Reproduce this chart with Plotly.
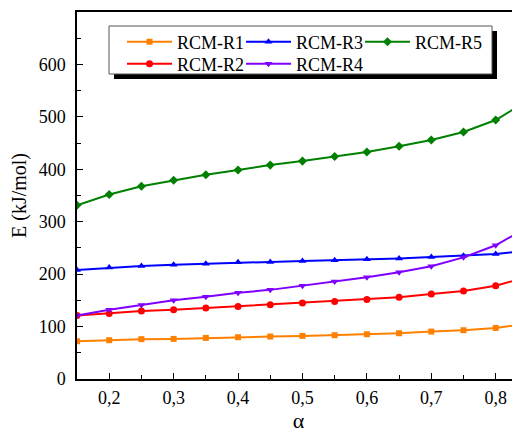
import plotly.graph_objects as go

alpha = [0.15, 0.20, 0.25, 0.30, 0.35, 0.40, 0.45, 0.50, 0.55, 0.60, 0.65, 0.70, 0.75, 0.80, 0.85]

rcm_r1 = [72, 74, 76, 76.5, 78.4, 79.7, 81, 82.2, 83.5, 85.4, 87.3, 90.5, 93, 97.4, 106]
rcm_r2 = [121, 125, 129.6, 132, 135.3, 138.5, 141.7, 144.8, 148, 151.8, 156, 162, 168, 178, 195]
rcm_r3 = [208, 212.5, 215.7, 218, 220, 222.6, 223.3, 225, 226.4, 228.3, 230, 232.8, 235.3, 238.5, 244.5]
rcm_r4 = [121, 132, 141, 150, 157, 164.5, 170, 178, 186, 194, 203.6, 215, 232, 255, 290]
rcm_r5 = [331.5, 352, 367.5, 379, 389.6, 398.5, 408, 415.6, 424.4, 433, 444, 456, 471, 494, 531]

x_tick_vals = [0.2, 0.3, 0.4, 0.5, 0.6, 0.7, 0.8]
x_tick_text = ["0,2", "0,3", "0,4", "0,5", "0,6", "0,7", "0,8"]
y_tick_vals = [0, 100, 200, 300, 400, 500, 600]
y_tick_text = ["0", "100", "200", "300", "400", "500", "600"]

FONT = "'Liberation Serif', 'Nimbus Roman', 'DejaVu Serif'"

# (name, values, colour, symbol, size)
series = [
    ("RCM-R1", rcm_r1, "#FF8000", "square", 6),
    ("RCM-R2", rcm_r2, "#FF0000", "circle", 7),
    ("RCM-R3", rcm_r3, "#0000FF", "triangle-up", 7),
    ("RCM-R4", rcm_r4, "#8000FF", "triangle-down", 7),
    ("RCM-R5", rcm_r5, "#008000", "diamond", 7),
]

# the page body has an 8px margin, so the figure is 8px smaller and offset
OFF = 8
W, H = 520 - OFF, 439 - OFF
L, R, T, B = 77 - OFF, 0, 12 - OFF, 60
pw, ph = W - L - R, H - T - B

def px(xw):
    return (xw - OFF - L) / pw

def py(yw):
    return (H - B - (yw - OFF)) / ph

# legend entry anchor (window px): x of entry, y of row centre
leg_pos = [(122, 42), (122, 64), (241, 42), (241, 64), (360, 42)]

fig = go.Figure()
legends = {}
for i, (name, vals, color, sym, size) in enumerate(series):
    key = "legend" if i == 0 else f"legend{i + 1}"
    fig.add_trace(go.Scatter(
        x=alpha, y=vals, name=name, mode="lines+markers",
        line=dict(color=color, width=2),
        marker=dict(symbol=sym, size=size, color=color),
        legend=key,
    ))
    lx, ly = leg_pos[i]
    legends[key] = dict(
        x=px(lx), y=py(ly), orientation="h", xanchor="left", yanchor="middle",
        bgcolor="rgba(0,0,0,0)", borderwidth=0, itemwidth=45,
        font=dict(family=FONT, size=18, color="black"),
    )

# legend shadow and box
fig.add_shape(type="rect", xref="paper", yref="paper",
              x0=px(114), x1=px(497), y0=py(79), y1=py(31),
              fillcolor="black", line=dict(width=0), layer="above")
fig.add_shape(type="rect", xref="paper", yref="paper",
              x0=px(109), x1=px(492), y0=py(74), y1=py(26),
              fillcolor="white", line=dict(color="#555555", width=1), layer="above")

fig.update_layout(
    width=W, height=H,
    margin=dict(l=L, r=R, t=T, b=B),
    paper_bgcolor="white", plot_bgcolor="white",
    font=dict(family=FONT, size=18, color="black"),
    showlegend=True,
    **legends,
    xaxis=dict(
        range=[0.15, 0.8377], tickvals=x_tick_vals, ticktext=x_tick_text,
        ticks="inside", ticklen=6, tickwidth=1.3, tickcolor="black",
        minor=dict(dtick=0.05, tick0=0.15, ticks="inside", ticklen=4, tickwidth=1.3, tickcolor="black"),
        showline=True, linecolor="black", linewidth=1.5, mirror=True,
        showgrid=False, zeroline=False,
        title=dict(text="α", font=dict(family=FONT, size=22), standoff=5),
        ticklabelstandoff=2,
    ),
    yaxis=dict(
        range=[0, 700], tickvals=y_tick_vals, ticktext=y_tick_text,
        ticks="inside", ticklen=6, tickwidth=1.3, tickcolor="black",
        minor=dict(dtick=50, tick0=0, ticks="inside", ticklen=4, tickwidth=1.3, tickcolor="black"),
        showline=True, linecolor="black", linewidth=1.5, mirror=False,
        showgrid=False, zeroline=False,
        title=dict(text="E (kJ/mol)", font=dict(family=FONT, size=20), standoff=10),
        ticklabelstandoff=6,
    ),
)

fig.write_html("out.html")
